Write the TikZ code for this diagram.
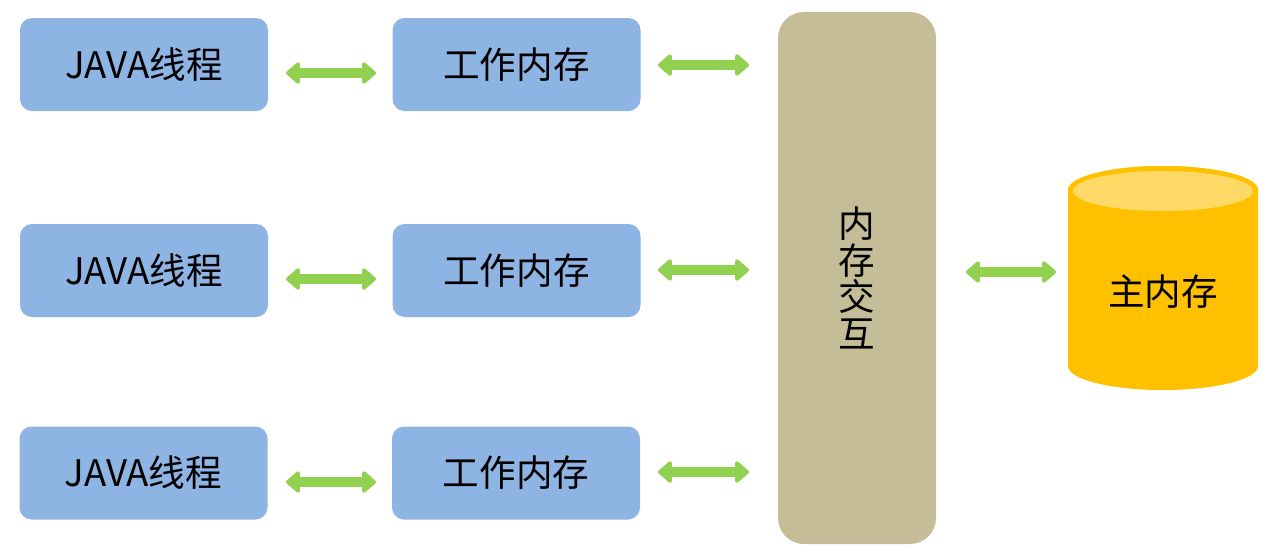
\documentclass[tikz,border=0pt]{standalone}
\usepackage{fontspec}
\setmainfont{Noto Sans CJK SC}
\usetikzlibrary{arrows.meta}
\definecolor{boxblue}{HTML}{8EB4E3}
\definecolor{khaki}{HTML}{C4BD97}
\definecolor{agreen}{HTML}{92D050}
\definecolor{cylor}{HTML}{FFC000}
\definecolor{cyltop}{HTML}{FFD966}
\begin{document}
\begin{tikzpicture}[x=1pt,y=-1pt,
  bluebox/.style={fill=boxblue,rounded corners=12pt,minimum width=248pt,minimum height=93pt,inner sep=0pt,font=\fontsize{36.6}{40}\selectfont},
  garrow/.style={draw=agreen,line width=10pt,line join=round,{Triangle[width=25pt,length=15pt,round]}-{Triangle[width=25pt,length=15pt,round]}}
]
\useasboundingbox (0,0) rectangle (1271,550);
% left column
\node[bluebox] (j1) at (144,64.5) {JAVA线程};
\node[bluebox] (j2) at (144,270.5) {JAVA线程};
\node[bluebox] (j3) at (143.5,473) {JAVA线程};
\node[bluebox] (w1) at (516.5,64.5) {工作内存};
\node[bluebox] (w2) at (516.5,270.5) {工作内存};
\node[bluebox] (w3) at (516,473) {工作内存};
% big box
\node[fill=khaki,rounded corners=26pt,minimum width=158pt,minimum height=532pt,inner sep=0pt,
  align=center,font=\fontsize{36.6}{36.5}\selectfont] (mx) at (857,278) {内\\存\\交\\互};
% cylinder
\fill[cylor] (1068,190) -- (1068,366) arc[start angle=180,end angle=360,x radius=95pt,y radius=24pt]
  -- (1258,190) arc[start angle=0,end angle=180,x radius=95pt,y radius=24pt] -- cycle;
\fill[cylor] (1163,190) ellipse[x radius=95pt,y radius=24pt];
\fill[cyltop] (1163,191) ellipse[x radius=90pt,y radius=20pt];
\node[font=\fontsize{36.6}{40}\selectfont,inner sep=0pt] (main) at (1163,292) {主内存};
% arrow ends
\coordinate (a1l) at (286,73); \coordinate (a1r) at (376,73);
\coordinate (a2l) at (286,279); \coordinate (a2r) at (376,279);
\coordinate (a3l) at (286,482); \coordinate (a3r) at (376,482);
\coordinate (b1l) at (658,65); \coordinate (b1r) at (749,65);
\coordinate (b2l) at (658,270); \coordinate (b2r) at (749,270);
\coordinate (b3l) at (658,472); \coordinate (b3r) at (749,472);
\coordinate (cl) at (966,272); \coordinate (cr) at (1056,272);
\draw[garrow] (a1l) -- (a1r);
\draw[garrow] (a2l) -- (a2r);
\draw[garrow] (a3l) -- (a3r);
\draw[garrow] (b1l) -- (b1r);
\draw[garrow] (b2l) -- (b2r);
\draw[garrow] (b3l) -- (b3r);
\draw[garrow] (cl) -- (cr);
\end{tikzpicture}
\end{document}
